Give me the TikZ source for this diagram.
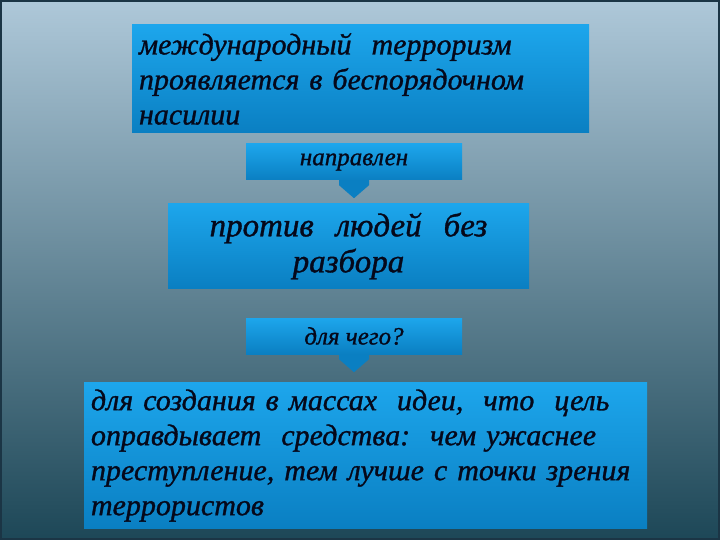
\documentclass[tikz,border=0pt]{standalone}
\usepackage{fontspec}
\setmainfont{Liberation Serif}[ItalicFeatures={FakeBold=1}]
\usetikzlibrary{positioning}
\definecolor{bgtop}{HTML}{AEC8D9}
\definecolor{bgmid}{HTML}{7D97A5}
\definecolor{bgbot}{HTML}{1D4757}
\definecolor{bgedge}{HTML}{1B3545}
\definecolor{boxtop}{HTML}{1DA6EC}
\definecolor{boxbot}{HTML}{0A7FC2}
\definecolor{inktext}{HTML}{05081A}
\frenchspacing
\begin{document}
\begin{tikzpicture}[
	x=1pt,y=-1pt,
	font=\itshape,
	textbox/.style={rectangle,top color=boxtop,bottom color=boxbot,text=inktext,inner sep=7pt},
	bigtext/.style={font=\fontsize{30}{35}\selectfont\itshape},
	midtext/.style={font=\fontsize{33}{36}\selectfont\itshape},
	smalltext/.style={font=\fontsize{25}{28}\selectfont\itshape},
	labelbox/.style={textbox,smalltext,minimum width=216pt,minimum height=36pt},
	tipfill/.style={fill=boxbot},
	]
\shade [top color=bgtop,middle color=bgmid,bottom color=bgbot] (0,0) rectangle (720,540);
\draw [bgedge,line width=2pt] (1,1) rectangle (719,539);
\useasboundingbox (0,0) rectangle (720,540);
\node [textbox,bigtext,minimum width=457pt,minimum height=108pt,text width=443pt,align=left] (terror) at (360.5,79)
	{международный~ терроризм\\проявляется в беспорядочном\\насилии};
\node [labelbox] (directed) at (354,162) {направлен};
\node [textbox,midtext,minimum width=361pt,minimum height=84pt,text width=347pt,align=center] (people) at (348.5,246)
	{против~ людей~ без\\разбора};
\node [labelbox] (purpose) at (354,336) {для чего?};
\node [textbox,bigtext,minimum width=563pt,minimum height=143pt,text width=549pt,align=left] (idea) at (365.5,455.5)
	{для создания в массах~ идеи,~ что~ цель\\оправдывает~ средства:~ чем ужаснее\\преступление, тем лучше с точки зрения\\террористов};
\coordinate (tip1) at ([yshift=-18pt]directed.south);
\coordinate (tip2) at ([yshift=-18pt]purpose.south);
\fill [tipfill] ([xshift=-15pt]directed.south) -- ++(0,5) -- (tip1) -- ([xshift=15pt,yshift=-5pt]directed.south) -- ([xshift=15pt]directed.south) -- cycle;
\fill [tipfill] ([xshift=-15pt]purpose.south) -- ++(0,5) -- (tip2) -- ([xshift=15pt,yshift=-5pt]purpose.south) -- ([xshift=15pt]purpose.south) -- cycle;
\end{tikzpicture}
\end{document}
